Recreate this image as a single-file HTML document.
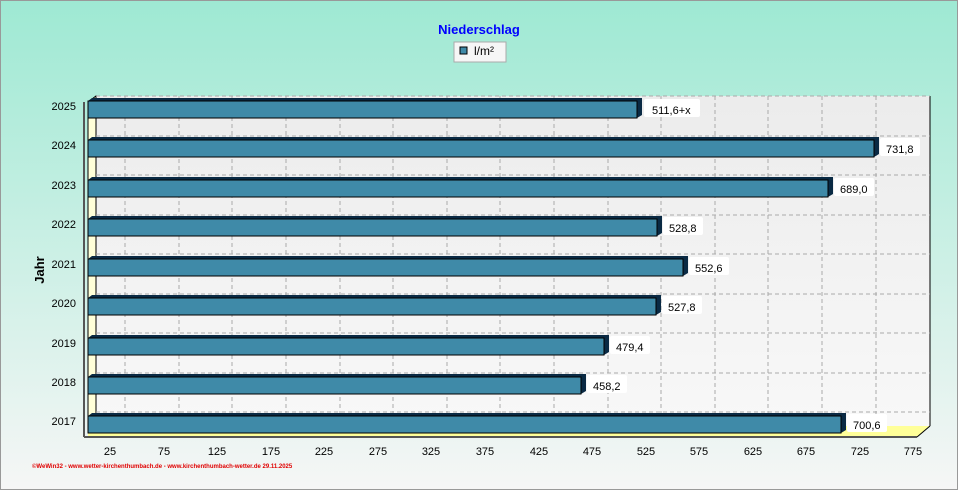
<!DOCTYPE html>
<html><head><style>body{margin:0}svg{display:block;font-family:"Liberation Sans",sans-serif}</style></head><body>
<svg width="958" height="490" xmlns="http://www.w3.org/2000/svg">
<defs><linearGradient id="bg" x1="0" y1="0" x2="0" y2="1"><stop offset="0" stop-color="#9ee9d3"/><stop offset="1" stop-color="#f6f6f6"/></linearGradient>
<linearGradient id="pw" x1="0" y1="0" x2="0" y2="1"><stop offset="0" stop-color="#ececec"/><stop offset="1" stop-color="#f8f8f8"/></linearGradient></defs>
<rect width="958" height="490" fill="url(#bg)"/>
<rect x="0.5" y="0.5" width="957" height="489" fill="none" stroke="#999"/>
<text x="479" y="34" text-anchor="middle" font-size="13" font-weight="bold" fill="#0000ff">Niederschlag</text>
<rect x="454" y="42" width="52" height="20" fill="#f6f6f6" stroke="#aaa"/>
<rect x="460" y="47" width="7" height="7" fill="#3f8aa8" stroke="#000"/>
<text x="474" y="55" font-size="12" fill="#000">l/m²</text>
<polygon points="96,96 930,96 930,426 96,426" fill="url(#pw)"/>
<polygon points="88,102 96,96 96,426 88,432" fill="#ffffd8" stroke="#000" stroke-width="1"/>
<polygon points="88,432 96,426 930,426 917,437 88,437" fill="#ffff99"/>
<line x1="930" y1="96" x2="930" y2="426" stroke="#000"/>
<line x1="930" y1="426" x2="917" y2="437" stroke="#000"/>
<g stroke="#aaa" stroke-dasharray="4,3">
<line x1="96" y1="96" x2="930" y2="96"/>
<line x1="96" y1="136" x2="930" y2="136"/><line x1="96" y1="175" x2="930" y2="175"/><line x1="96" y1="215" x2="930" y2="215"/><line x1="96" y1="254" x2="930" y2="254"/><line x1="96" y1="294" x2="930" y2="294"/><line x1="96" y1="333" x2="930" y2="333"/><line x1="96" y1="373" x2="930" y2="373"/><line x1="96" y1="412" x2="930" y2="412"/>
<line x1="125" y1="96" x2="125" y2="426"/><line x1="179" y1="96" x2="179" y2="426"/><line x1="232" y1="96" x2="232" y2="426"/><line x1="286" y1="96" x2="286" y2="426"/><line x1="340" y1="96" x2="340" y2="426"/><line x1="393" y1="96" x2="393" y2="426"/><line x1="447" y1="96" x2="447" y2="426"/><line x1="500" y1="96" x2="500" y2="426"/><line x1="554" y1="96" x2="554" y2="426"/><line x1="608" y1="96" x2="608" y2="426"/><line x1="661" y1="96" x2="661" y2="426"/><line x1="715" y1="96" x2="715" y2="426"/><line x1="768" y1="96" x2="768" y2="426"/><line x1="822" y1="96" x2="822" y2="426"/><line x1="876" y1="96" x2="876" y2="426"/>
</g>
<line x1="84" y1="102" x2="84" y2="437" stroke="#555" stroke-width="2"/>
<line x1="84" y1="437" x2="917" y2="437" stroke="#555" stroke-width="2"/>
<g font-size="11" fill="#000" text-anchor="middle">
<text x="110" y="455">25</text><text x="164" y="455">75</text><text x="217" y="455">125</text><text x="271" y="455">175</text><text x="324" y="455">225</text><text x="378" y="455">275</text><text x="431" y="455">325</text><text x="485" y="455">375</text><text x="539" y="455">425</text><text x="592" y="455">475</text><text x="646" y="455">525</text><text x="699" y="455">575</text><text x="753" y="455">625</text><text x="806" y="455">675</text><text x="860" y="455">725</text><text x="913" y="455">775</text>
</g>
<g font-size="11" fill="#000" text-anchor="end">
<text x="76" y="110">2025</text><text x="76" y="149">2024</text><text x="76" y="189">2023</text><text x="76" y="228">2022</text><text x="76" y="268">2021</text><text x="76" y="307">2020</text><text x="76" y="347">2019</text><text x="76" y="386">2018</text><text x="76" y="425">2017</text>
</g>
<text transform="translate(44,270) rotate(-90)" text-anchor="middle" font-size="13" font-weight="bold">Jahr</text>
<text x="32" y="468" font-size="6" font-weight="bold" fill="#e00000">©WeWin32 - www.wetter-kirchenthumbach.de - www.kirchenthumbach-wetter.de  29.11.2025</text>
<g font-size="11">
<g transform="translate(0,101)"><polygon points="88,0 92,-3 642,-3 642,14 637,17 637,0" fill="#0a2a44"/><rect x="88" y="0" width="549" height="17" fill="#3f8aa8" stroke="#000"/><rect x="644" y="-2" width="56" height="18" fill="#fff" rx="2"/><text x="652" y="13">511,6+x</text></g>
<g transform="translate(0,140)"><polygon points="88,0 92,-3 879,-3 879,14 874,17 874,0" fill="#0a2a44"/><rect x="88" y="0" width="786" height="17" fill="#3f8aa8" stroke="#000"/><rect x="880" y="-2" width="40" height="18" fill="#fff" rx="2"/><text x="886" y="13">731,8</text></g>
<g transform="translate(0,180)"><polygon points="88,0 92,-3 833,-3 833,14 828,17 828,0" fill="#0a2a44"/><rect x="88" y="0" width="740" height="17" fill="#3f8aa8" stroke="#000"/><rect x="834" y="-2" width="40" height="18" fill="#fff" rx="2"/><text x="840" y="13">689,0</text></g>
<g transform="translate(0,219)"><polygon points="88,0 92,-3 662,-3 662,14 657,17 657,0" fill="#0a2a44"/><rect x="88" y="0" width="569" height="17" fill="#3f8aa8" stroke="#000"/><rect x="663" y="-2" width="40" height="18" fill="#fff" rx="2"/><text x="669" y="13">528,8</text></g>
<g transform="translate(0,259)"><polygon points="88,0 92,-3 688,-3 688,14 683,17 683,0" fill="#0a2a44"/><rect x="88" y="0" width="595" height="17" fill="#3f8aa8" stroke="#000"/><rect x="689" y="-2" width="40" height="18" fill="#fff" rx="2"/><text x="695" y="13">552,6</text></g>
<g transform="translate(0,298)"><polygon points="88,0 92,-3 661,-3 661,14 656,17 656,0" fill="#0a2a44"/><rect x="88" y="0" width="568" height="17" fill="#3f8aa8" stroke="#000"/><rect x="662" y="-2" width="40" height="18" fill="#fff" rx="2"/><text x="668" y="13">527,8</text></g>
<g transform="translate(0,338)"><polygon points="88,0 92,-3 609,-3 609,14 604,17 604,0" fill="#0a2a44"/><rect x="88" y="0" width="516" height="17" fill="#3f8aa8" stroke="#000"/><rect x="610" y="-2" width="40" height="18" fill="#fff" rx="2"/><text x="616" y="13">479,4</text></g>
<g transform="translate(0,377)"><polygon points="88,0 92,-3 586,-3 586,14 581,17 581,0" fill="#0a2a44"/><rect x="88" y="0" width="493" height="17" fill="#3f8aa8" stroke="#000"/><rect x="587" y="-2" width="40" height="18" fill="#fff" rx="2"/><text x="593" y="13">458,2</text></g>
<g transform="translate(0,416)"><polygon points="88,0 92,-3 846,-3 846,14 841,17 841,0" fill="#0a2a44"/><rect x="88" y="0" width="753" height="17" fill="#3f8aa8" stroke="#000"/><rect x="847" y="-2" width="40" height="18" fill="#fff" rx="2"/><text x="853" y="13">700,6</text></g>
</g>
</svg>
</body></html>
